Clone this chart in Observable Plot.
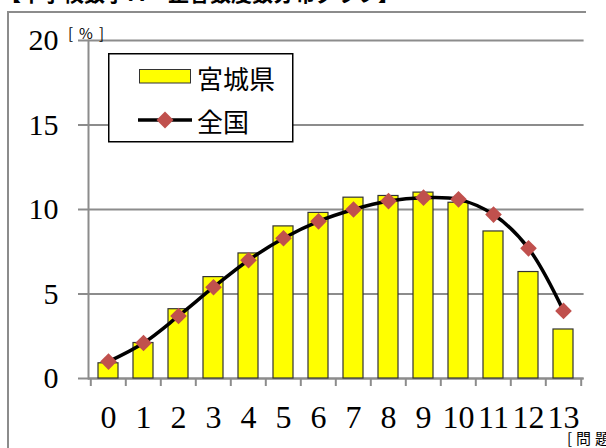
<!DOCTYPE html>
<html>
<head>
<meta charset="utf-8">
<script src="https://cdn.jsdelivr.net/npm/d3@7"></script>
<script src="https://cdn.jsdelivr.net/npm/@observablehq/plot@0.6"></script>
<style>
  body { margin: 0; background: #fff; }
  #wrap { position: relative; width: 606px; height: 448px; overflow: hidden; background: #fff; }
  #chart { position: absolute; left: 0; top: 0; }
  #frame { position: absolute; left: 7px; top: 11px; width: 577px; height: 460px;
           border-left: 2px solid #8c8c8c; border-top: 2px solid #8c8c8c; }
  #title { position: absolute; left: 0; top: -18px; font: bold 21px/1 "Noto Sans CJK JP", sans-serif;
           color: #000; white-space: nowrap; }
  .unit { position: absolute; font: 15px/1 "Noto Sans CJK JP", sans-serif; color: #000;
          letter-spacing: 6px; white-space: nowrap; }
  #legend { position: absolute; left: 108px; top: 53px; }
</style>
</head>
<body>
<div id="wrap">
  <div id="chart"></div>
  <div id="frame"></div>
  <div id="title">【中学校数学Ａ　正答数度数分布グラフ】</div>
  <div class="unit" style="left:68px; top:25px;">[%]</div>
  <div class="unit" style="left:567px; top:430px; letter-spacing:4px;">[問題数]</div>
  <svg id="legend" width="186" height="90" font-family="Noto Sans CJK JP, sans-serif">
    <rect x="0.75" y="0.75" width="184" height="88" fill="#fff" stroke="#000" stroke-width="1.5"></rect>
    <rect x="31.5" y="16.5" width="51" height="13.5" fill="#FFFF00" stroke="#333" stroke-width="1"></rect>
    <text x="89" y="24" font-size="26" dominant-baseline="central">宮城県</text>
    <line x1="30" x2="84" y1="67" y2="67" stroke="#000" stroke-width="3.5"></line>
    <path d="M57,58.5 L65.5,67 L57,75.5 L48.5,67 Z" fill="#C0504D"></path>
    <text x="89" y="67" font-size="26" dominant-baseline="central">全国</text>
  </svg>
</div>
<script>
// Number of correct answers (0–13) and share of students in each group [%]
const scores  = [0, 1, 2, 3, 4, 5, 6, 7, 8, 9, 10, 11, 12, 13];
const miyagi  = [0.9, 2.1, 4.1, 6.0, 7.4, 9.0, 9.8, 10.7, 10.8, 11.0, 10.4, 8.7, 6.3, 2.9];
const zenkoku = [1.0, 2.1, 3.7, 5.4, 7.0, 8.3, 9.3, 10.0, 10.5, 10.7, 10.6, 9.7, 7.7, 4.0];
const yTicks  = [0, 5, 10, 15, 20];

const rows = scores.map((s, i) => ({score: s, miyagi: miyagi[i], zenkoku: zenkoku[i]}));

const W = 606, H = 448;
const mL = 88, mR = 22.4, mT = 40, mB = 70;
const step = (W - mL - mR) / scores.length;   // width of one category slot
const gray = "#8c8c8c";
const serif = "'Liberation Serif', 'Times New Roman', serif";

const chart = Plot.plot({
  width: W,
  height: H,
  marginLeft: mL,
  marginRight: mR,
  marginTop: mT,
  marginBottom: mB,
  style: {background: "transparent", overflow: "visible"},
  x: {type: "band", domain: scores, paddingInner: 0.435, paddingOuter: 0.2175, axis: null, label: null},
  y: {domain: [0, 20], axis: null, label: null},
  marks: [
    Plot.gridY(yTicks, {stroke: gray, strokeOpacity: 1, strokeWidth: 2}),
    Plot.frame({anchor: "left", stroke: gray, strokeWidth: 2}),
    Plot.ruleY([0], {stroke: gray, strokeWidth: 2}),
    // tick marks on the category boundaries
    Plot.axisX({tickSize: 8, dx: -step / 2, stroke: gray, strokeWidth: 2, fill: "none", label: null}),
    Plot.axisX([13], {tickSize: 8, dx: step / 2, stroke: gray, strokeWidth: 2, fill: "none", label: null}),
    Plot.axisX({tickSize: 0, tickPadding: 27, fill: "#000", fontSize: 32, label: null}),
    Plot.axisY({ticks: yTicks, tickSize: 10, tickPadding: 20, stroke: gray, strokeWidth: 2,
                fill: "#000", fontSize: 30, label: null}),
    Plot.barY(rows, {x: "score", y: "miyagi", fill: "#FFFF00", stroke: "#333", strokeWidth: 1.2}),
    Plot.line(rows, {x: "score", y: "zenkoku", curve: "catmull-rom", stroke: "#000", strokeWidth: 3.5}),
    Plot.dot(rows, {x: "score", y: "zenkoku", symbol: "diamond2", r: 7.5, fill: "#C0504D", stroke: "none"})
  ]
});

// tick labels use a serif face
d3.select(chart).selectAll("text").style("font-family", serif);

document.getElementById("chart").appendChild(chart);
</script>
</body>
</html>
